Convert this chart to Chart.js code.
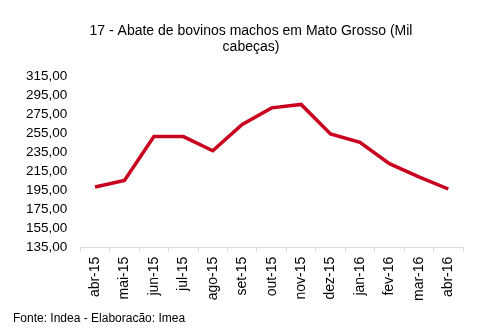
<!DOCTYPE html>
<html>
<head>
<meta charset="utf-8">
<script src="https://cdn.jsdelivr.net/npm/chart.js@4/dist/chart.umd.min.js"></script>
<style>
  html, body { margin: 0; padding: 0; background: #ffffff; }
  #wrap { width: 483px; height: 334px; }
</style>
</head>
<body>
<div id="wrap"><canvas id="c" width="483" height="334"></canvas></div>
<script>
// Monthly slaughter of male cattle, Mato Grosso (thousand head)
const months = ['abr-15', 'mai-15', 'jun-15', 'jul-15', 'ago-15', 'set-15', 'out-15',
                'nov-15', 'dez-15', 'jan-16', 'fev-16', 'mar-16', 'abr-16'];
const abateMachos = [198.6, 205.4, 251.5, 251.5, 236.6, 264.3, 281.6,
                     285.2, 254.3, 245.4, 223.1, 209.3, 196.5];
const yTicks = [135, 155, 175, 195, 215, 235, 255, 275, 295, 315];

const titleLines = ['17 - Abate de bovinos machos em Mato Grosso (Mil', 'cabeças)'];
const sourceNote = 'Fonte: Indea - Elaboracão: Imea';

const fontFamily = '"Liberation Sans", Arial, Helvetica, sans-serif';
const fmt = v => v.toFixed(2).replace('.', ',');

// Two-line heading above the plot and the source note in the bottom-left corner
const captionsPlugin = {
  id: 'captions',
  afterDraw(chart) {
    const ctx = chart.ctx;
    ctx.save();
    ctx.fillStyle = '#000000';
    ctx.textBaseline = 'middle';

    ctx.font = '14px ' + fontFamily;
    ctx.textAlign = 'center';
    titleLines.forEach((line, i) => ctx.fillText(line, 251, 31 + i * 16));

    ctx.font = '12px ' + fontFamily;
    ctx.textAlign = 'left';
    ctx.fillText(sourceNote, 13, chart.height - 15);
    ctx.restore();
  }
};

new Chart(document.getElementById('c'), {
  type: 'line',
  data: {
    labels: months,
    datasets: [{
      data: abateMachos,
      borderColor: '#C8001E',
      borderWidth: 3.5,
      pointRadius: 0,
      tension: 0,
      fill: false
    }]
  },
  plugins: [captionsPlugin],
  options: {
    responsive: false,
    animation: false,
    layout: { padding: { left: 13, right: 20, top: 76, bottom: 28 } },
    plugins: {
      legend: { display: false },
      tooltip: { enabled: false },
      title: { display: false }
    },
    scales: {
      x: {
        offset: true,
        grid: {
          display: true,
          offset: true,
          drawOnChartArea: false,
          drawTicks: true,
          tickLength: 4,
          color: '#d9d9d9'
        },
        border: { display: true, color: '#d9d9d9', width: 1 },
        ticks: {
          autoSkip: false,
          maxRotation: 90,
          minRotation: 90,
          padding: 5,
          color: '#000000',
          font: { family: fontFamily, size: 14 }
        }
      },
      y: {
        min: 135,
        max: 315,
        afterBuildTicks: axis => { axis.ticks = yTicks.map(v => ({ value: v })); },
        grid: { display: false, drawTicks: false },
        border: { display: false },
        ticks: {
          autoSkip: false,
          padding: 13,
          color: '#000000',
          font: { family: fontFamily, size: 13.5 },
          callback: v => fmt(v)
        }
      }
    }
  }
});
</script>
</body>
</html>
